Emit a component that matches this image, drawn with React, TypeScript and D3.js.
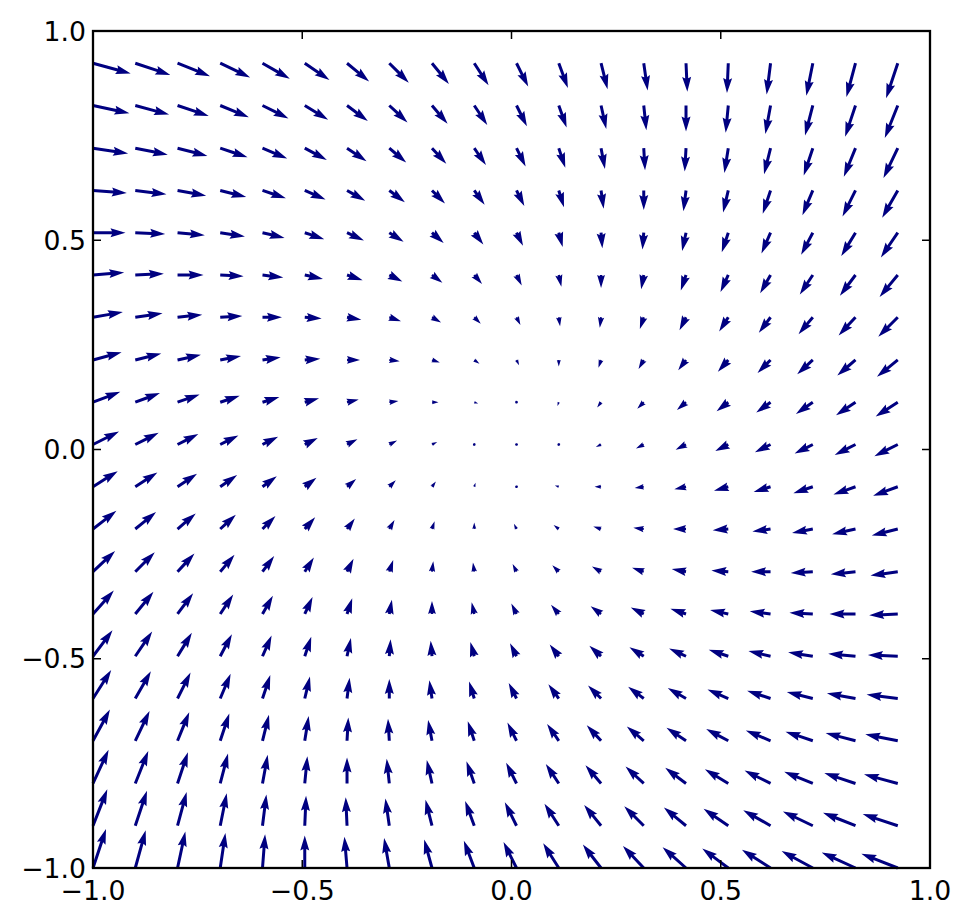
import * as d3 from 'd3';

// grid positions (tails of the arrows)
const xGrid = [-1, -0.899, -0.798, -0.696, -0.595, -0.494, -0.393, -0.292, -0.19, -0.089, 0.012, 0.113, 0.214, 0.316, 0.417, 0.518, 0.619, 0.72, 0.822, 0.923];
const yGrid = [-1, -0.899, -0.798, -0.696, -0.595, -0.494, -0.393, -0.292, -0.19, -0.089, 0.012, 0.113, 0.214, 0.316, 0.417, 0.518, 0.619, 0.72, 0.822, 0.923];

// U[k][j], V[k][j]: row k follows yGrid (bottom to top), column j follows xGrid
const U = [
  [1.0, 0.8, 0.6, 0.4, 0.2, 0.0, -0.2, -0.4, -0.6, -0.8, -1.0, -1.2, -1.4, -1.6, -1.8, -2.0, -2.2, -2.4, -2.6, -2.8],
  [1.1, 0.9, 0.7, 0.5, 0.3, 0.1, -0.1, -0.3, -0.5, -0.7, -0.9, -1.1, -1.3, -1.5, -1.7, -1.9, -2.1, -2.3, -2.5, -2.7],
  [1.2, 1.0, 0.8, 0.6, 0.4, 0.2, 0.0, -0.2, -0.4, -0.6, -0.8, -1.0, -1.2, -1.4, -1.6, -1.8, -2.0, -2.2, -2.4, -2.6],
  [1.3, 1.1, 0.9, 0.7, 0.5, 0.3, 0.1, -0.1, -0.3, -0.5, -0.7, -0.9, -1.1, -1.3, -1.5, -1.7, -1.9, -2.1, -2.3, -2.5],
  [1.4, 1.2, 1.0, 0.8, 0.6, 0.4, 0.2, 0.0, -0.2, -0.4, -0.6, -0.8, -1.0, -1.2, -1.4, -1.6, -1.8, -2.0, -2.2, -2.4],
  [1.5, 1.3, 1.1, 0.9, 0.7, 0.5, 0.3, 0.1, -0.1, -0.3, -0.5, -0.7, -0.9, -1.1, -1.3, -1.5, -1.7, -1.9, -2.1, -2.3],
  [1.6, 1.4, 1.2, 1.0, 0.8, 0.6, 0.4, 0.2, 0.0, -0.2, -0.4, -0.6, -0.8, -1.0, -1.2, -1.4, -1.6, -1.8, -2.0, -2.2],
  [1.7, 1.5, 1.3, 1.1, 0.9, 0.7, 0.5, 0.3, 0.1, -0.1, -0.3, -0.5, -0.7, -0.9, -1.1, -1.3, -1.5, -1.7, -1.9, -2.1],
  [1.8, 1.6, 1.4, 1.2, 1.0, 0.8, 0.6, 0.4, 0.2, 0.0, -0.2, -0.4, -0.6, -0.8, -1.0, -1.2, -1.4, -1.6, -1.8, -2.0],
  [1.9, 1.7, 1.5, 1.3, 1.1, 0.9, 0.7, 0.5, 0.3, 0.1, -0.1, -0.3, -0.5, -0.7, -0.9, -1.1, -1.3, -1.5, -1.7, -1.9],
  [2.0, 1.8, 1.6, 1.4, 1.2, 1.0, 0.8, 0.6, 0.4, 0.2, 0.0, -0.2, -0.4, -0.6, -0.8, -1.0, -1.2, -1.4, -1.6, -1.8],
  [2.1, 1.9, 1.7, 1.5, 1.3, 1.1, 0.9, 0.7, 0.5, 0.3, 0.1, -0.1, -0.3, -0.5, -0.7, -0.9, -1.1, -1.3, -1.5, -1.7],
  [2.2, 2.0, 1.8, 1.6, 1.4, 1.2, 1.0, 0.8, 0.6, 0.4, 0.2, 0.0, -0.2, -0.4, -0.6, -0.8, -1.0, -1.2, -1.4, -1.6],
  [2.3, 2.1, 1.9, 1.7, 1.5, 1.3, 1.1, 0.9, 0.7, 0.5, 0.3, 0.1, -0.1, -0.3, -0.5, -0.7, -0.9, -1.1, -1.3, -1.5],
  [2.4, 2.2, 2.0, 1.8, 1.6, 1.4, 1.2, 1.0, 0.8, 0.6, 0.4, 0.2, 0.0, -0.2, -0.4, -0.6, -0.8, -1.0, -1.2, -1.4],
  [2.5, 2.3, 2.1, 1.9, 1.7, 1.5, 1.3, 1.1, 0.9, 0.7, 0.5, 0.3, 0.1, -0.1, -0.3, -0.5, -0.7, -0.9, -1.1, -1.3],
  [2.6, 2.4, 2.2, 2.0, 1.8, 1.6, 1.4, 1.2, 1.0, 0.8, 0.6, 0.4, 0.2, 0.0, -0.2, -0.4, -0.6, -0.8, -1.0, -1.2],
  [2.7, 2.5, 2.3, 2.1, 1.9, 1.7, 1.5, 1.3, 1.1, 0.9, 0.7, 0.5, 0.3, 0.1, -0.1, -0.3, -0.5, -0.7, -0.9, -1.1],
  [2.8, 2.6, 2.4, 2.2, 2.0, 1.8, 1.6, 1.4, 1.2, 1.0, 0.8, 0.6, 0.4, 0.2, 0.0, -0.2, -0.4, -0.6, -0.8, -1.0],
  [2.9, 2.7, 2.5, 2.3, 2.1, 1.9, 1.7, 1.5, 1.3, 1.1, 0.9, 0.7, 0.5, 0.3, 0.1, -0.1, -0.3, -0.5, -0.7, -0.9],
];

const V = [
  [3.0, 2.9, 2.8, 2.7, 2.6, 2.5, 2.4, 2.3, 2.2, 2.1, 2.0, 1.9, 1.8, 1.7, 1.6, 1.5, 1.4, 1.3, 1.2, 1.1],
  [2.8, 2.7, 2.6, 2.5, 2.4, 2.3, 2.2, 2.1, 2.0, 1.9, 1.8, 1.7, 1.6, 1.5, 1.4, 1.3, 1.2, 1.1, 1.0, 0.9],
  [2.6, 2.5, 2.4, 2.3, 2.2, 2.1, 2.0, 1.9, 1.8, 1.7, 1.6, 1.5, 1.4, 1.3, 1.2, 1.1, 1.0, 0.9, 0.8, 0.7],
  [2.4, 2.3, 2.2, 2.1, 2.0, 1.9, 1.8, 1.7, 1.6, 1.5, 1.4, 1.3, 1.2, 1.1, 1.0, 0.9, 0.8, 0.7, 0.6, 0.5],
  [2.2, 2.1, 2.0, 1.9, 1.8, 1.7, 1.6, 1.5, 1.4, 1.3, 1.2, 1.1, 1.0, 0.9, 0.8, 0.7, 0.6, 0.5, 0.4, 0.3],
  [2.0, 1.9, 1.8, 1.7, 1.6, 1.5, 1.4, 1.3, 1.2, 1.1, 1.0, 0.9, 0.8, 0.7, 0.6, 0.5, 0.4, 0.3, 0.2, 0.1],
  [1.8, 1.7, 1.6, 1.5, 1.4, 1.3, 1.2, 1.1, 1.0, 0.9, 0.8, 0.7, 0.6, 0.5, 0.4, 0.3, 0.2, 0.1, 0.0, -0.1],
  [1.6, 1.5, 1.4, 1.3, 1.2, 1.1, 1.0, 0.9, 0.8, 0.7, 0.6, 0.5, 0.4, 0.3, 0.2, 0.1, 0.0, -0.1, -0.2, -0.3],
  [1.4, 1.3, 1.2, 1.1, 1.0, 0.9, 0.8, 0.7, 0.6, 0.5, 0.4, 0.3, 0.2, 0.1, 0.0, -0.1, -0.2, -0.3, -0.4, -0.5],
  [1.2, 1.1, 1.0, 0.9, 0.8, 0.7, 0.6, 0.5, 0.4, 0.3, 0.2, 0.1, 0.0, -0.1, -0.2, -0.3, -0.4, -0.5, -0.6, -0.7],
  [1.0, 0.9, 0.8, 0.7, 0.6, 0.5, 0.4, 0.3, 0.2, 0.1, 0.0, -0.1, -0.2, -0.3, -0.4, -0.5, -0.6, -0.7, -0.8, -0.9],
  [0.8, 0.7, 0.6, 0.5, 0.4, 0.3, 0.2, 0.1, 0.0, -0.1, -0.2, -0.3, -0.4, -0.5, -0.6, -0.7, -0.8, -0.9, -1.0, -1.1],
  [0.6, 0.5, 0.4, 0.3, 0.2, 0.1, 0.0, -0.1, -0.2, -0.3, -0.4, -0.5, -0.6, -0.7, -0.8, -0.9, -1.0, -1.1, -1.2, -1.3],
  [0.4, 0.3, 0.2, 0.1, 0.0, -0.1, -0.2, -0.3, -0.4, -0.5, -0.6, -0.7, -0.8, -0.9, -1.0, -1.1, -1.2, -1.3, -1.4, -1.5],
  [0.2, 0.1, 0.0, -0.1, -0.2, -0.3, -0.4, -0.5, -0.6, -0.7, -0.8, -0.9, -1.0, -1.1, -1.2, -1.3, -1.4, -1.5, -1.6, -1.7],
  [0.0, -0.1, -0.2, -0.3, -0.4, -0.5, -0.6, -0.7, -0.8, -0.9, -1.0, -1.1, -1.2, -1.3, -1.4, -1.5, -1.6, -1.7, -1.8, -1.9],
  [-0.2, -0.3, -0.4, -0.5, -0.6, -0.7, -0.8, -0.9, -1.0, -1.1, -1.2, -1.3, -1.4, -1.5, -1.6, -1.7, -1.8, -1.9, -2.0, -2.1],
  [-0.4, -0.5, -0.6, -0.7, -0.8, -0.9, -1.0, -1.1, -1.2, -1.3, -1.4, -1.5, -1.6, -1.7, -1.8, -1.9, -2.0, -2.1, -2.2, -2.3],
  [-0.6, -0.7, -0.8, -0.9, -1.0, -1.1, -1.2, -1.3, -1.4, -1.5, -1.6, -1.7, -1.8, -1.9, -2.0, -2.1, -2.2, -2.3, -2.4, -2.5],
  [-0.8, -0.9, -1.0, -1.1, -1.2, -1.3, -1.4, -1.5, -1.6, -1.7, -1.8, -1.9, -2.0, -2.1, -2.2, -2.3, -2.4, -2.5, -2.6, -2.7],
];

const tickValues = [-1, -0.5, 0, 0.5, 1];

const width = 968;
const height = 924;
const margin = { top: 31, right: 38, bottom: 56, left: 93 };
const arrowColor = '#000080';
const shaftWidth = 3; // px
const pxPerUnit = 13; // arrow length per unit of magnitude
const fontSize = 26.7;
const tickLen = 8;

// arrow outline in shaft-width units, like matplotlib's quiver (pivot = tail)
function arrowShape(len: number): [number, number][] {
  const headLength = 5;
  const headAxisLength = 4.5;
  const headWidth = 3;
  if (len < 1) {
    // too short: small hexagon dot
    return d3.range(7).map(i => {
      const th = (i * Math.PI) / 3;
      return [Math.cos(th) * 0.5, Math.sin(th) * 0.5];
    });
  }
  if (len < headLength) {
    const s = len / headLength;
    const pts: [number, number][] = [
      [0, 0.5], [0.5, 0.5], [0, headWidth / 2], [headLength, 0],
      [0, -headWidth / 2], [0.5, -0.5], [0, -0.5],
    ];
    return pts.map(([a, b]) => [a * s, b * s]);
  }
  return [
    [0, 0.5],
    [len - headAxisLength, 0.5],
    [len - headLength, headWidth / 2],
    [len, 0],
    [len - headLength, -headWidth / 2],
    [len - headAxisLength, -0.5],
    [0, -0.5],
  ];
}

const App = () => {
  const x = d3.scaleLinear().domain([-1, 1]).range([margin.left, width - margin.right]);
  const y = d3.scaleLinear().domain([-1, 1]).range([height - margin.bottom, margin.top]);
  const fmt = d3.format('.1f');

  const arrows: { key: string; points: string }[] = [];
  yGrid.forEach((gy, k) => {
    xGrid.forEach((gx, j) => {
      const u = U[k][j];
      const v = V[k][j];
      const mag = Math.hypot(u, v);
      const len = (mag * pxPerUnit) / shaftWidth;
      const ang = Math.atan2(-v, u);
      const c = Math.cos(ang);
      const s = Math.sin(ang);
      const tx = x(gx);
      const ty = y(gy);
      const pts = arrowShape(len).map(([a, b]) => {
        const px = a * shaftWidth;
        const py = b * shaftWidth;
        return `${(tx + px * c - py * s).toFixed(2)},${(ty + px * s + py * c).toFixed(2)}`;
      });
      arrows.push({ key: `${k}-${j}`, points: pts.join(' ') });
    });
  });

  const x0 = x(-1);
  const x1 = x(1);
  const y0 = y(-1);
  const y1 = y(1);

  return (
    <svg
      width={width}
      height={height}
      style={{ position: 'absolute', left: 0, top: 0, background: '#fff' }}
      fontFamily="DejaVu Sans"
    >
      <rect x={0} y={0} width={width} height={height} fill="#fff" />
      <g>
        {arrows.map(a => (
          <polygon key={a.key} points={a.points} fill={arrowColor} />
        ))}
      </g>

      {/* ticks, inward on all four sides */}
      <g stroke="#000" strokeWidth={1.5}>
        {tickValues.map(t => (
          <g key={`xt${t}`}>
            <line x1={x(t)} x2={x(t)} y1={y0} y2={y0 - tickLen} />
            <line x1={x(t)} x2={x(t)} y1={y1} y2={y1 + tickLen} />
          </g>
        ))}
        {tickValues.map(t => (
          <g key={`yt${t}`}>
            <line x1={x0} x2={x0 + tickLen} y1={y(t)} y2={y(t)} />
            <line x1={x1} x2={x1 - tickLen} y1={y(t)} y2={y(t)} />
          </g>
        ))}
      </g>

      <rect
        x={x0}
        y={y1}
        width={x1 - x0}
        height={y0 - y1}
        fill="none"
        stroke="#000"
        strokeWidth={2.3}
      />

      <g fontSize={fontSize} fill="#000">
        {tickValues.map(t => (
          <text key={`xl${t}`} x={x(t)} y={y0 + 32} textAnchor="middle">
            {fmt(t)}
          </text>
        ))}
        {tickValues.map(t => (
          <text key={`yl${t}`} x={x0 - 7} y={y(t) + fontSize * 0.36} textAnchor="end">
            {fmt(t)}
          </text>
        ))}
      </g>
    </svg>
  );
};

export default App;
